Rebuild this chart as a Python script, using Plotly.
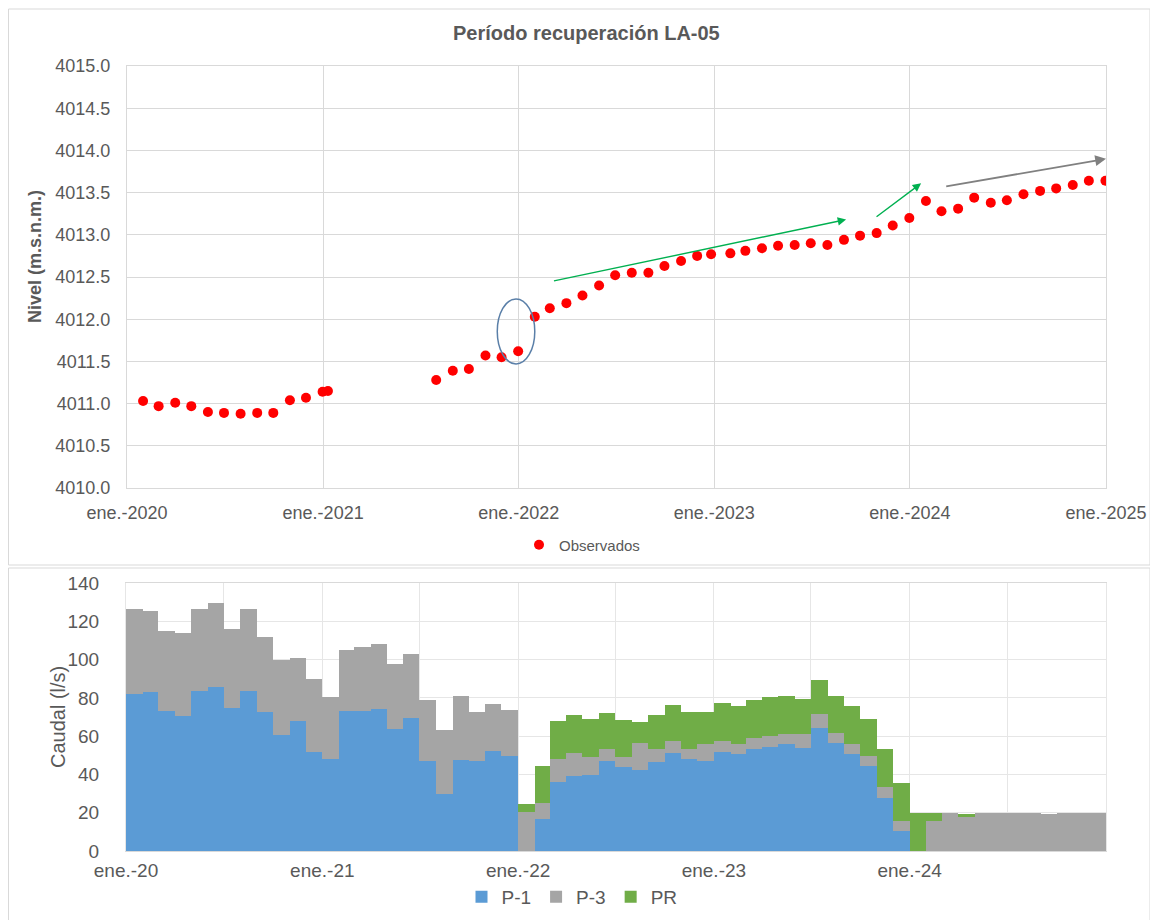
import pandas as pd
import plotly.graph_objects as go

# ---------------- data ----------------
obs_dates = [
    "2020-01-31", "2020-02-29", "2020-03-31", "2020-04-30", "2020-05-31", "2020-06-30",
    "2020-07-31", "2020-08-31", "2020-09-30", "2020-10-31", "2020-11-30", "2020-12-31",
    "2021-01-10",
    "2021-07-31", "2021-08-31", "2021-09-30", "2021-10-31", "2021-11-30", "2021-12-31",
    "2022-01-31", "2022-02-28", "2022-03-31", "2022-04-30", "2022-05-31", "2022-06-30",
    "2022-07-31", "2022-08-31", "2022-09-30", "2022-10-31", "2022-11-30", "2022-12-26",
    "2023-01-31", "2023-02-28", "2023-03-31", "2023-04-30", "2023-05-31", "2023-06-30",
    "2023-07-31", "2023-08-31", "2023-09-30", "2023-10-31", "2023-11-30", "2023-12-31",
    "2024-01-31", "2024-02-29", "2024-03-31", "2024-04-30", "2024-05-31", "2024-06-30",
    "2024-07-31", "2024-08-31", "2024-09-30", "2024-10-31", "2024-11-30", "2024-12-31",
]
obs_values = [
    4011.03, 4010.97, 4011.01, 4010.97, 4010.90, 4010.89,
    4010.88, 4010.89, 4010.89, 4011.04, 4011.07, 4011.14,
    4011.15,
    4011.28, 4011.39, 4011.41, 4011.57, 4011.55, 4011.62,
    4012.03, 4012.13, 4012.19, 4012.28, 4012.40, 4012.52,
    4012.55, 4012.55, 4012.63, 4012.69, 4012.75, 4012.77,
    4012.78, 4012.81, 4012.84, 4012.87, 4012.88, 4012.90,
    4012.88, 4012.94, 4012.99, 4013.02, 4013.11, 4013.20,
    4013.40, 4013.28, 4013.31, 4013.44, 4013.38, 4013.41,
    4013.48, 4013.52, 4013.55, 4013.59, 4013.64, 4013.64,
]

months = list(pd.date_range("2020-01-01", "2024-12-01", freq="MS"))

p1 = [81.9, 83.1, 73.3, 70.7, 83.8, 85.7, 74.5, 83.8, 72.5, 60.6, 67.7, 51.9,
      47.9, 73.1, 73.1, 74.3, 63.7, 69.6, 47.1, 29.8, 47.7, 47.0, 52.4, 49.8,
      0.0, 16.5, 35.9, 39.2, 39.7, 47.2, 43.7, 42.5, 46.3, 51.0, 47.9, 47.2,
      51.7, 50.5, 53.3, 54.5, 55.7, 53.7, 64.4, 56.3, 50.5, 44.4, 27.9, 10.4,
      0.0, 0.0, 0.0, 0.0, 0.0, 0.0, 0.0, 0.0, 0.0, 0.0, 0.0, 0.0]
p3 = [44.3, 42.4, 41.6, 43.0, 42.4, 43.9, 41.6, 42.4, 39.1, 39.3, 33.3, 37.8,
      32.4, 31.8, 33.7, 34.0, 33.8, 33.3, 31.8, 33.2, 33.3, 25.5, 24.5, 23.7,
      20.5, 8.6, 12.0, 11.8, 9.2, 5.9, 5.2, 13.9, 6.8, 6.3, 5.2, 8.5,
      5.8, 5.5, 5.6, 5.7, 5.3, 7.3, 7.2, 5.3, 5.2, 5.2, 5.4, 5.1,
      0.0, 15.8, 19.7, 17.9, 19.7, 19.7, 19.7, 19.7, 19.3, 19.7, 19.7, 19.7]
pr = [0.0] * 24 + [
      3.9, 19.3, 20.0, 20.1, 20.2, 18.8, 19.5, 10.8, 18.0, 19.1, 19.5, 16.9,
      19.7, 19.8, 20.0, 20.1, 20.0, 18.3, 17.9, 19.4, 19.8, 19.4, 19.8, 20.2,
      19.7, 3.9, 0.0, 1.2, 0.0, 0.0, 0.0, 0.0, 0.0, 0.0, 0.0, 0.0]

top_tickvals = ["2020-01-01", "2021-01-01", "2022-01-01", "2023-01-01", "2024-01-01", "2025-01-01"]
top_ticktext = ["ene.-2020", "ene.-2021", "ene.-2022", "ene.-2023", "ene.-2024", "ene.-2025"]
bot_tickvals = ["2020-01-01", "2020-07-01", "2021-01-01", "2021-07-01", "2022-01-01", "2022-07-01",
                "2023-01-01", "2023-07-01", "2024-01-01", "2024-07-01", "2025-01-01"]
bot_ticktext = ["ene.-20", "", "ene.-21", "", "ene.-22", "", "ene.-23", "", "ene.-24", "", ""]

# ---------------- layout helpers ----------------
OFF = 8                      # page body margin
W, H = 1158 - OFF, 920 - OFF
def fx(x):
    return (x - OFF) / W
def fy(y):
    return 1 - (y - OFF) / H

FONT = "Liberation Sans, Arial, sans-serif"
TXT = "#595959"
GRID = "#d9d9d9"
GRID2 = "#e6e6e6"

widths = [((m + pd.offsets.MonthBegin(1)) - m).total_seconds() * 1000 for m in months]

fig = go.Figure()

fig.add_trace(go.Scatter(
    x=obs_dates, y=obs_values, mode="markers", name="Observados",
    marker=dict(color="#FF0000", size=10, line=dict(width=0)),
    xaxis="x", yaxis="y", legend="legend",
))

for name, vals, col in [("P-1", p1, "#5B9BD5"), ("P-3", p3, "#A5A5A5"), ("PR", pr, "#70AD47")]:
    fig.add_trace(go.Bar(
        x=months, y=vals, name=name, width=widths, offset=0,
        marker=dict(color=col, line=dict(width=0)),
        xaxis="x2", yaxis="y2", legend="legend2",
    ))

fig.update_layout(
    width=W, height=H,
    margin=dict(l=0, r=0, t=0, b=0),
    paper_bgcolor="white", plot_bgcolor="white",
    font=dict(family=FONT, color=TXT),
    barmode="stack", bargap=0,
    xaxis=dict(
        domain=[fx(127), fx(1106)], anchor="y", type="date",
        range=["2020-01-01", "2025-01-01"],
        tickmode="array", tickvals=top_tickvals, ticktext=top_ticktext,
        showgrid=True, gridcolor=GRID, gridwidth=1,
        showline=True, linecolor=GRID, mirror=True, zeroline=False,
        ticks="", tickfont=dict(size=18, color=TXT), ticklabelstandoff=8,
        automargin=False,
    ),
    yaxis=dict(
        domain=[fy(488), fy(66)], anchor="x",
        range=[4010, 4015], dtick=0.5, tick0=4010, tickformat=".1f",
        showgrid=True, gridcolor=GRID, gridwidth=1,
        showline=True, linecolor=GRID, mirror=True, zeroline=False,
        ticks="", tickfont=dict(size=18, color=TXT), ticklabelstandoff=12,
        automargin=False,
    ),
    xaxis2=dict(
        domain=[fx(126), fx(1106)], anchor="y2", type="date",
        range=["2020-01-01", "2025-01-01"],
        tickmode="array", tickvals=bot_tickvals, ticktext=bot_ticktext,
        showgrid=True, gridcolor=GRID2, gridwidth=1,
        showline=True, linecolor=GRID, mirror=True, zeroline=False,
        ticks="", tickfont=dict(size=19, color=TXT), ticklabelstandoff=2,
        automargin=False,
    ),
    yaxis2=dict(
        domain=[fy(851), fy(583)], anchor="x2",
        range=[0, 140], dtick=20, tick0=0,
        showgrid=True, gridcolor=GRID2, gridwidth=1,
        showline=True, linecolor=GRID2, mirror=True, zeroline=False,
        ticks="", tickfont=dict(size=19, color=TXT), ticklabelstandoff=22,
        automargin=False,
    ),
    legend=dict(
        orientation="h", x=fx(582), y=fy(545), xanchor="center", yanchor="middle",
        font=dict(size=15, color=TXT), bgcolor="rgba(0,0,0,0)", itemwidth=30,
    ),
    legend2=dict(
        orientation="h", x=fx(572), y=fy(897), xanchor="center", yanchor="middle",
        font=dict(size=19, color=TXT), bgcolor="rgba(0,0,0,0)", itemwidth=30,
        traceorder="normal",
    ),
    showlegend=True,
)

# frames around each chart
fig.add_shape(type="rect", xref="paper", yref="paper",
              x0=fx(8.5), x1=fx(1150), y0=fy(565), y1=fy(9),
              line=dict(color=GRID, width=1), fillcolor="rgba(0,0,0,0)", layer="below")
fig.add_shape(type="rect", xref="paper", yref="paper",
              x0=fx(8.5), x1=fx(1150), y0=fy(925), y1=fy(568),
              line=dict(color=GRID, width=1), fillcolor="rgba(0,0,0,0)", layer="below")

# ellipse highlighting the jump
fig.add_shape(type="circle", xref="x", yref="y",
              x0="2021-11-22", x1="2022-01-31", y0=4011.47, y1=4012.24,
              line=dict(color="#5A7FA8", width=1.5), fillcolor="rgba(0,0,0,0)")

# trend arrows
for (x_tail, y_tail, x_head, y_head, col) in [
    ("2022-03-05", 4012.45, "2023-09-04", 4013.18, "#00B050"),
    ("2023-10-28", 4013.20, "2024-01-22", 4013.61, "#00B050"),
    ("2024-03-06", 4013.57, "2025-01-01", 4013.90, "#808080"),
]:
    fig.add_annotation(
        x=x_head, y=y_head, ax=x_tail, ay=y_tail,
        xref="x", yref="y", axref="x", ayref="y",
        text="", showarrow=True, arrowhead=2, arrowsize=1.2,
        arrowwidth=1.8 if col == "#808080" else 1.4, arrowcolor=col,
    )

# titles
fig.add_annotation(text="<b>Período recuperación LA-05</b>", xref="paper", yref="paper",
                   x=fx(586), y=fy(33), showarrow=False, xanchor="center", yanchor="middle",
                   font=dict(size=20, color=TXT, family=FONT))
fig.add_annotation(text="<b>Nivel (m.s.n.m.)</b>", xref="paper", yref="paper",
                   x=fx(35), y=fy(257), showarrow=False, textangle=-90,
                   xanchor="center", yanchor="middle",
                   font=dict(size=18, color=TXT, family=FONT))
fig.add_annotation(text="Caudal (l/s)", xref="paper", yref="paper",
                   x=fx(58), y=fy(717), showarrow=False, textangle=-90,
                   xanchor="center", yanchor="middle",
                   font=dict(size=20, color=TXT, family=FONT))

fig.write_html("out.html")
